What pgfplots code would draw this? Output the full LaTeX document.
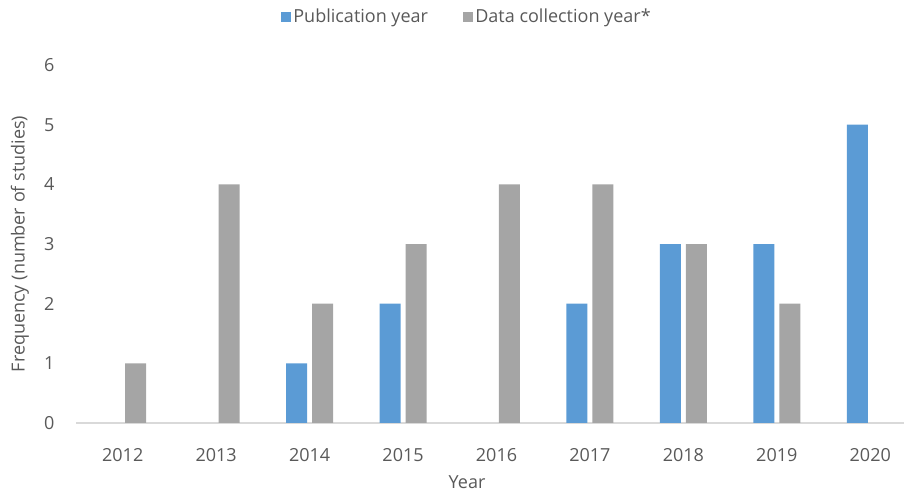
\documentclass[border=0pt]{standalone}
\usepackage{pgfplots}
\pgfplotsset{compat=1.18}
\usepackage{fontspec}
\setmainfont{Open Sans}
\definecolor{pubblue}{HTML}{5B9BD5}
\definecolor{datagray}{HTML}{A5A5A5}
\definecolor{txtgray}{HTML}{595959}
\definecolor{axisgray}{HTML}{D9D9D9}
\begin{document}
\begin{tikzpicture}
\path[use as bounding box] (0pt,0pt) rectangle (678pt,369.75pt);
\begin{axis}[
  at={(57pt,52.5pt)}, anchor=south west,
  scale only axis, width=630.75pt, height=268.5pt,
  xmin=-0.5, xmax=8.5, ymin=0, ymax=6,
  xtick={0,...,8}, xticklabels={2012,2013,2014,2015,2016,2017,2018,2019,2020},
  ytick={0,...,6},
  axis x line=bottom, axis y line=left,
  x axis line style={-, draw=axisgray, line width=1.1pt},
  y axis line style={draw=none},
  tick style={draw=none},
  /pgf/number format/assume math mode=true,
  ticklabel style={font=\fontsize{13.5}{16}\selectfont, text=txtgray},
  xticklabel style={anchor=center, yshift=-21.75pt},
  yticklabel style={anchor=east, inner sep=0pt, xshift=-13.9pt},
  xlabel={Year},
  xlabel style={at={(axis description cs:0.465,-0.165)}, anchor=center, font=\fontsize{13.5}{16}\selectfont, text=txtgray},
  ylabel={Frequency (number of studies)},
  ylabel style={at={(axis description cs:-0.0666,0.5)}, anchor=center, font=\fontsize{13.5}{16}\selectfont, text=txtgray},
  legend style={at={(axis description cs:0.465,1.134)}, anchor=center, draw=none, fill=none,
    font=\fontsize{13.5}{16}\selectfont, text=txtgray, legend columns=2,
    /tikz/every even column/.append style={column sep=24pt}},
  legend image code/.code={\fill[#1] (-3pt,-3.75pt) rectangle (4.5pt,3.75pt);},
]
\addplot[ybar, bar width=15.75pt, bar shift=-9.75pt, fill=pubblue, draw=none]
  coordinates {(2,1) (3,2) (5,2) (6,3) (7,3) (8,5)};
\addlegendentry{Publication year}
\addplot[ybar, bar width=15.75pt, bar shift=9.75pt, fill=datagray, draw=none]
  coordinates {(0,1) (1,4) (2,2) (3,3) (4,4) (5,4) (6,3) (7,2)};
\addlegendentry{Data collection year*}
\end{axis}
\end{tikzpicture}
\end{document}
